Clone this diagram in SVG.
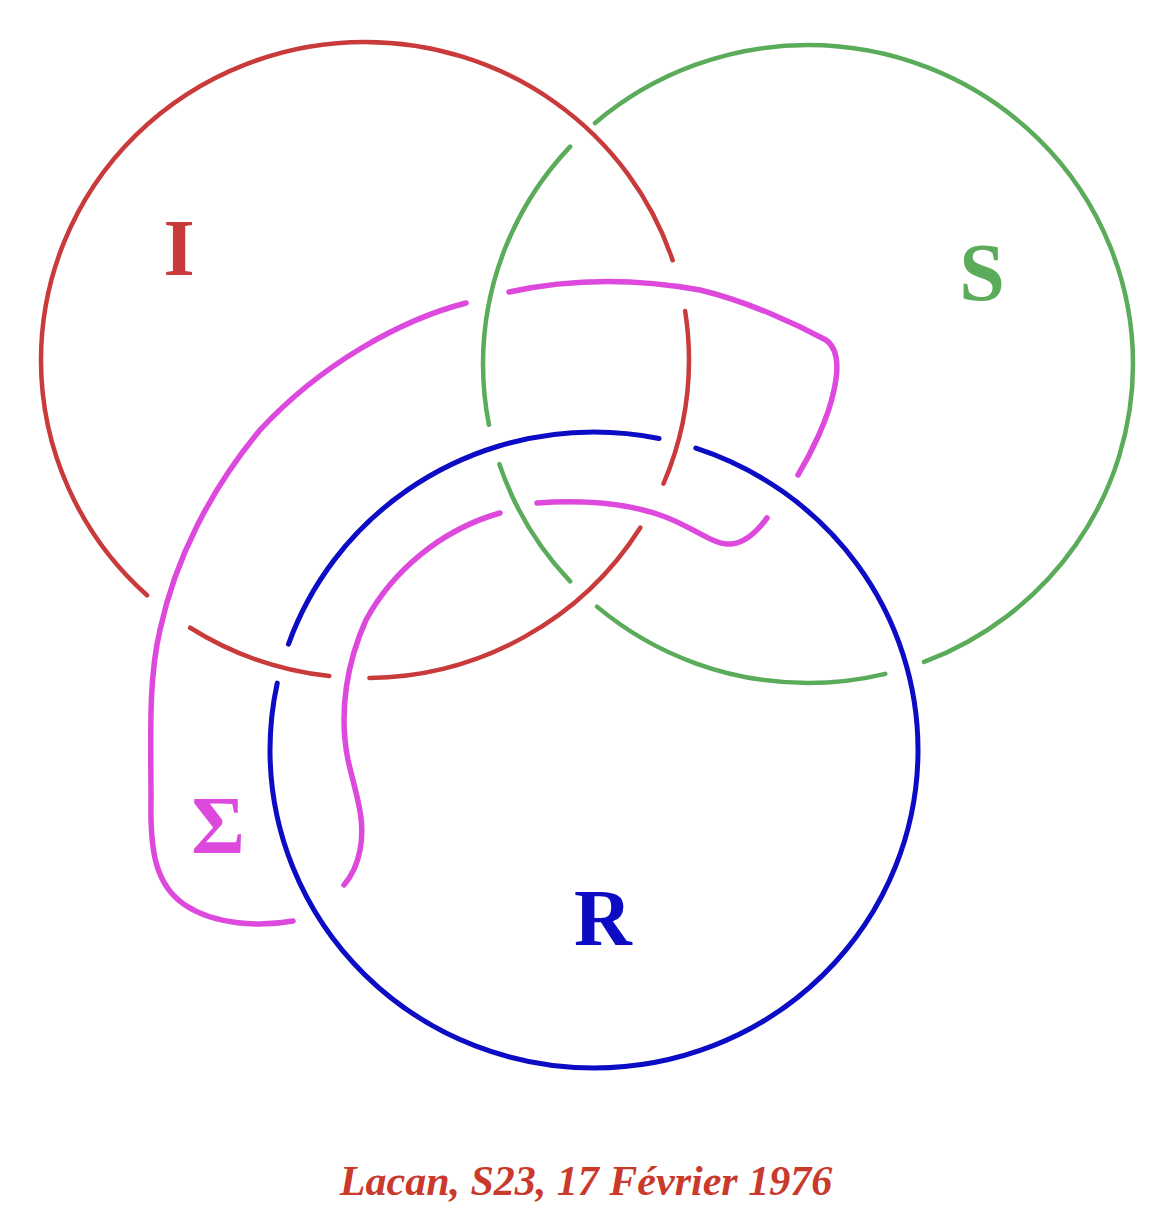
<svg xmlns="http://www.w3.org/2000/svg" width="1171" height="1225" viewBox="0 0 1171 1225">
<style>
.ring{fill:none;stroke-linecap:round;stroke-linejoin:round}
.red{stroke:#c93a3a;stroke-width:4.5}
.green{stroke:#5aab5a;stroke-width:4.5}
.blue{stroke:#0c0cc4;stroke-width:5}
.mag{stroke:#dd48dd;stroke-width:5.5}
.lbl{font-family:"Liberation Serif","Times New Roman",serif;font-weight:bold;text-anchor:middle}
</style>
<rect width="1171" height="1225" fill="#ffffff"/>
<g id="ring-I">
<path class="ring red" pathLength="360" stroke-dasharray="22.7 8.9 57.6 7.2 26.5 9.65 209.3 9.35 8.8 0" d="M689,360 A324,318 0 0 1 41,360 A324,318 0 0 1 689,360 Z"/>
<text class="lbl" x="179" y="275" font-size="80" fill="#c93a3a">I</text>
</g>
<g id="ring-S">
<path class="ring green" pathLength="360" stroke-dasharray="68.9 7.2 54.65 6.55 24.54 7.26 53.6 6.1 131.2 0" d="M1133,364 A325,319 0 0 1 483,364 A325,319 0 0 1 1133,364 Z"/>
<text class="lbl" x="982" y="300" font-size="82" fill="#5aab5a">S</text>
</g>
<g id="ring-R">
<path class="ring blue" pathLength="360" stroke-dasharray="192.05 7.25 82.4 6.8 71.5 0" d="M918,750 A324,318 0 0 1 270,750 A324,318 0 0 1 918,750 Z"/>
<text class="lbl" x="603" y="945" font-size="80" fill="#0c0cc4">R</text>
</g>
<g id="ring-Sigma">
<path class="ring mag" d="M509,292 Q600,272 700,290 C750,302 800,326 826,340 C840,350 838,372 834,390 C828,420 810,455 798,475"/>
<path class="ring mag" d="M767,518 C756,533 742,545 727,544 C710,543 690,525 660,515 C625,503 580,500 537,503"/>
<path class="ring mag" d="M500,513 C440,530 392,572 366,620 C348,660 338,710 348,760 C356,795 366,820 360,850 C357,866 350,878 344,885"/>
<path class="ring mag" d="M293,921 C260,927 215,925 185,905 C155,885 150,850 151,800 C151,740 148,680 160,630 C175,560 210,490 260,430 C320,365 400,320 466,303"/>
<text class="lbl" x="218" y="853" font-size="82" fill="#dd48dd">Σ</text>
</g>
<g id="connectors"></g>
<g id="caption">
<text class="lbl" x="586" y="1195" font-size="42" font-style="italic" fill="#c93a2c">Lacan, S23, 17 Février 1976</text>
</g>
</svg>
